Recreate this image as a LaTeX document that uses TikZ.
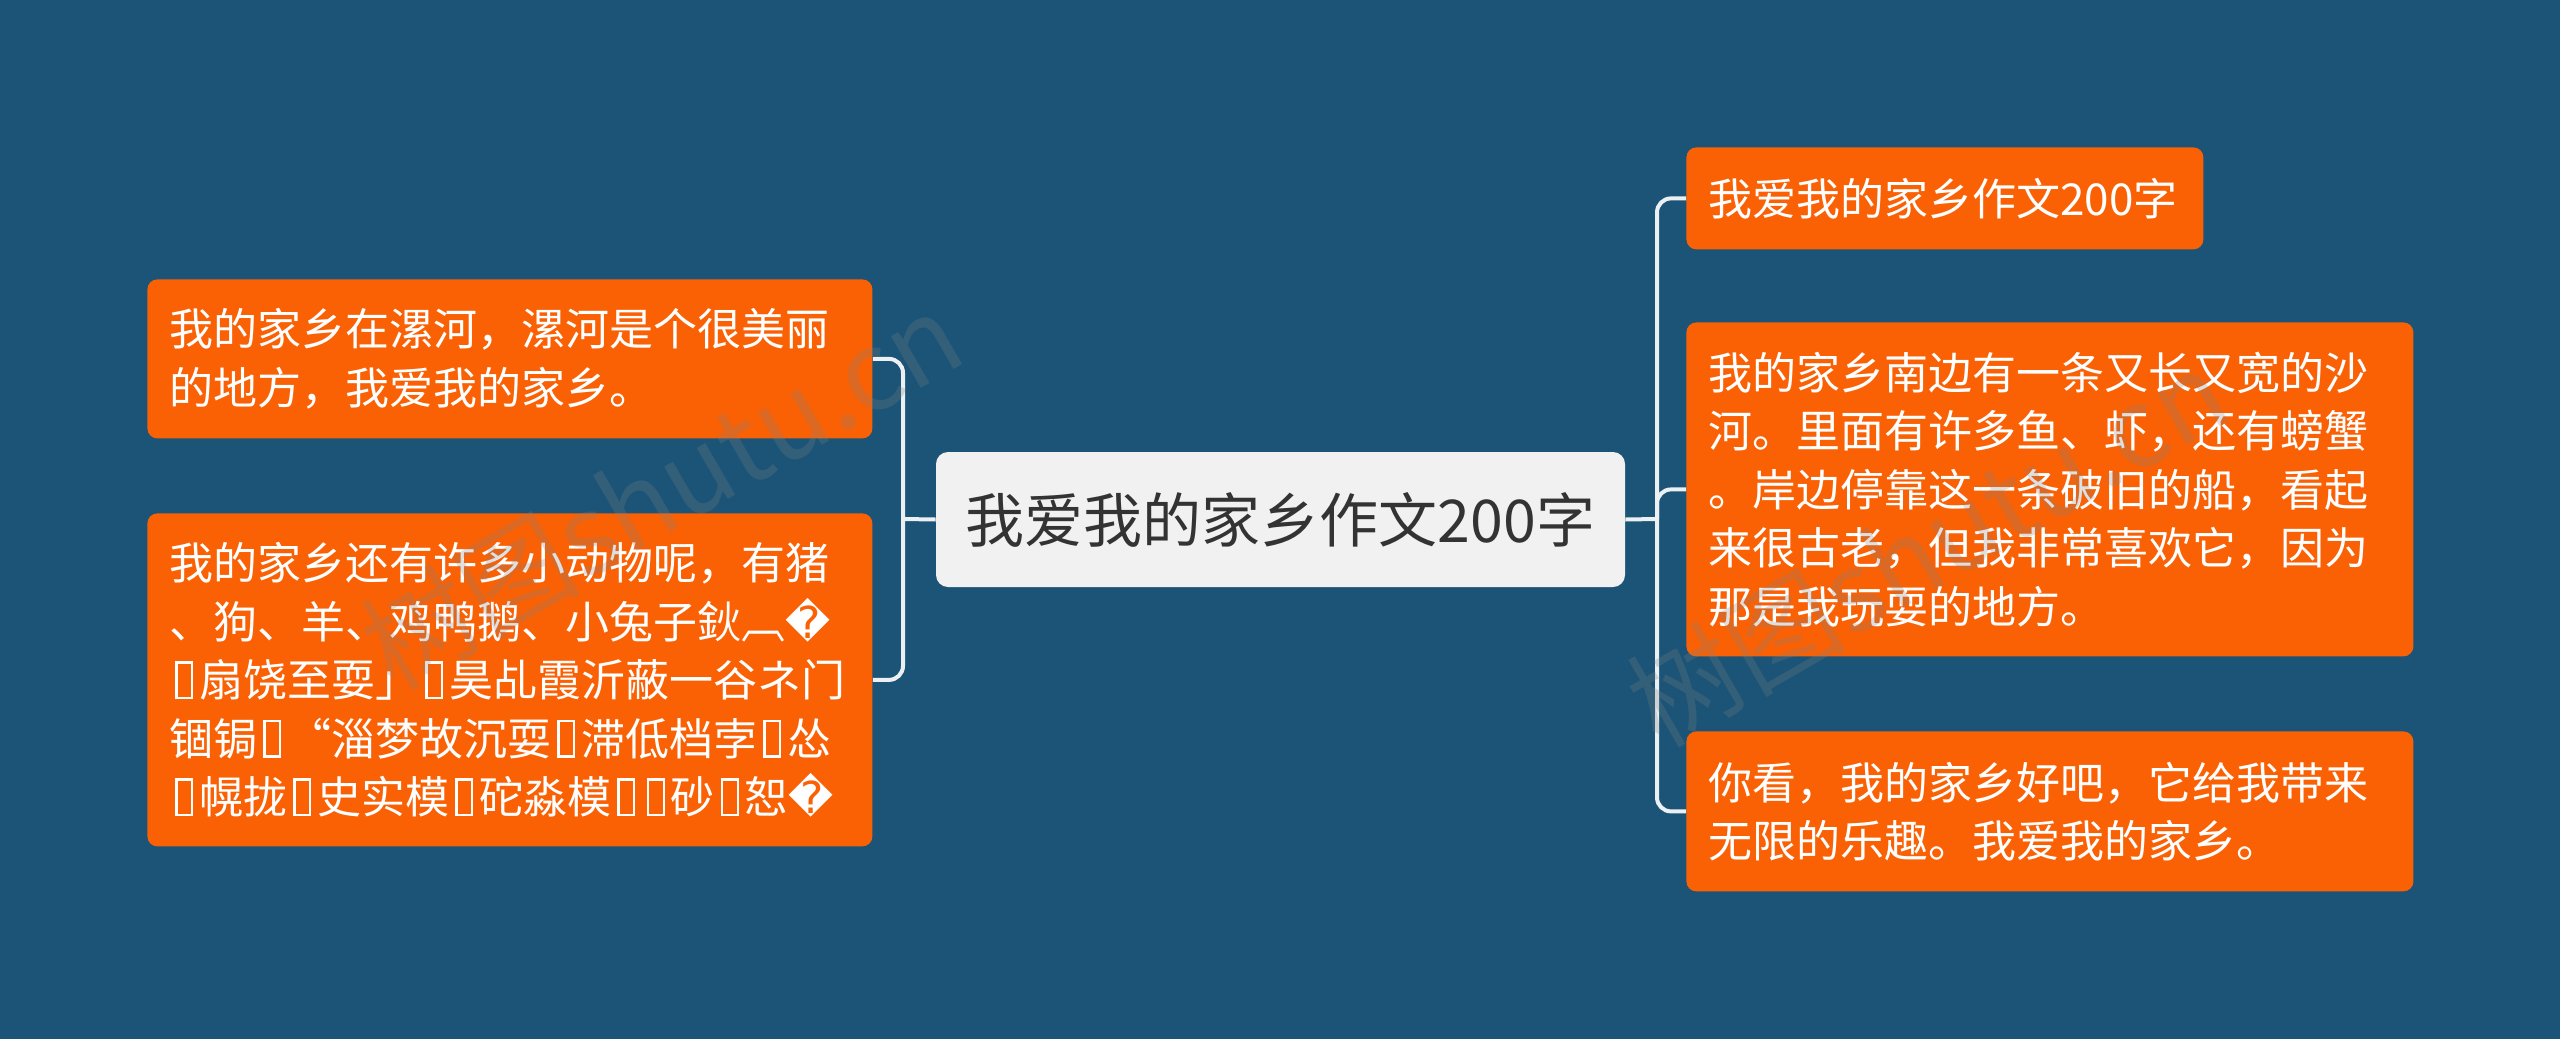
\documentclass[tikz,border=0pt]{standalone}
\usepackage{fontspec}
\setmainfont{Noto Sans CJK SC}
\newfontfamily\djv{DejaVu Sans}
\definecolor{bgblue}{RGB}{27,84,119}
\definecolor{boxorange}{RGB}{250,97,5}
\definecolor{centerfill}{RGB}{241,241,241}
\definecolor{centertext}{RGB}{51,51,51}
\definecolor{linecol}{RGB}{236,240,243}
\newcommand\tofu{\leavevmode\hbox to .68em{\hss\lower.06em\hbox{\vrule width .055em height .86em depth 0pt\vbox to .86em{\hrule width .3em height .055em\vfil\hrule width .3em height .055em}\vrule width .055em height .86em depth 0pt}\hss}}
\newcommand\repl{{\djv\symbol{"FFFD}}}
\tikzset{
  leaf/.style={fill=boxorange, text=white, rounded corners=5pt, anchor=north west, align=left,
    inner xsep=11pt, inner ysep=0pt, font=\fontsize{22}{29.2}\selectfont},
  root/.style={fill=centerfill, text=centertext, rounded corners=6pt, inner sep=0pt,
    font=\fontsize{29.5}{36}\selectfont},
  conn/.style={draw=linecol, line width=2pt, rounded corners=7pt},
  wmark/.style={text=gray, opacity=0.25, font=\fontsize{55}{55}\selectfont}
}
\begin{document}
\begin{tikzpicture}[x=0.5pt,y=-0.5pt]
\fill[bgblue] (0,0) rectangle (2560,1039);
\useasboundingbox (0,0) rectangle (2560,1039);

\node[root, minimum width=344.5pt, minimum height=67.5pt] (c) at (1280.5,519.5) {我爱我的家乡作文200字};

\node[leaf, text width=236.5pt, minimum height=51pt] (r1) at (1686,147) {我爱我的家乡作文200字};
\node[leaf, text width=341.5pt, minimum height=167pt] (r2) at (1686,322) {我的家乡南边有一条又长又宽的沙\\河。里面有许多鱼、虾，还有螃蟹\\。岸边停靠这一条破旧的船，看起\\来很古老，但我非常喜欢它，因为\\那是我玩耍的地方。};
\node[leaf, text width=341.5pt, minimum height=80pt] (r3) at (1686,731) {你看，我的家乡好吧，它给我带来\\无限的乐趣。我爱我的家乡。};

\node[leaf, text width=340.5pt, minimum height=79.5pt] (l1) at (147,279) {我的家乡在漯河，漯河是个很美丽\\的地方，我爱我的家乡。};
\node[leaf, text width=340.5pt, minimum height=166.5pt] (l2) at (147,513) {我的家乡还有许多小动物呢，有猪\\、狗、羊、鸡鸭鹅、小兔子鈥︹\repl\\\tofu 扇饶至耍」\tofu 昊乩霞沂蔽一谷ネ门\\锢锔\tofu “淄梦故沉耍\tofu 滞低档孛\tofu 怂\\\tofu 幌拢\tofu 史实模\tofu 砣淼模\tofu\tofu 砂\tofu 恕\repl};

\coordinate (rj) at (1657,519);
\coordinate (lj) at (903,519);
\draw[conn] (c.east) -- (rj);
\draw[conn] (rj) |- (r1.west);
\draw[conn] (rj) |- (r2.west);
\draw[conn] (rj) |- (r3.west);
\draw[conn] (c.west) -- (lj);
\draw[conn] (lj) |- (l1.east);
\draw[conn] (lj) |- (l2.east);

\node[wmark, rotate=30] (w1) at (661,490) {树图shutu.cn};
\node[wmark, rotate=30] (w2) at (1927,547) {树图shutu.cn};
\end{tikzpicture}
\end{document}
